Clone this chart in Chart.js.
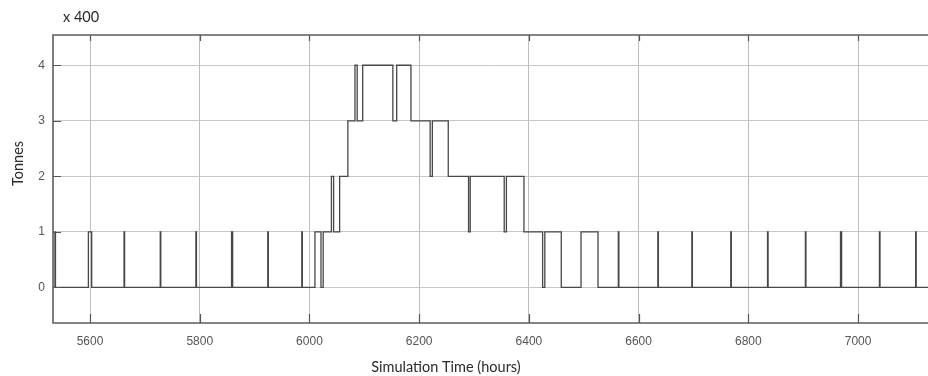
<!DOCTYPE html>
<html>
<head>
<meta charset="utf-8">
<title>Stock level over simulation time</title>
<script src="https://cdn.jsdelivr.net/npm/chart.js@4.4.1/dist/chart.umd.min.js"></script>
<style>
  html, body { margin: 0; padding: 0; background: #ffffff; }
  #wrap { width: 928px; height: 376px; overflow: hidden; }
  canvas { display: block; }
</style>
</head>
<body>
<div id="wrap"><canvas id="chart" width="928" height="376"></canvas></div>
<script>
// Switching instants (hours) and the stock level (units of 400 t) held from each instant on
const stockTimes = [
  5530, 5536, 5537, 5597, 5603, 5662, 5663, 5728, 5729, 5793, 5794,
  5858, 5860, 5924, 5925, 5986, 5987,
  6010, 6021, 6025, 6040, 6044, 6055, 6070, 6083, 6087, 6097,
  6152, 6159, 6185, 6220, 6224, 6253, 6290, 6293, 6355, 6359, 6391,
  6425, 6429, 6459, 6495, 6526,
  6563, 6564, 6635, 6636, 6697, 6698, 6768, 6769, 6835, 6836,
  6904, 6905, 6968, 6970, 7039, 7040, 7105, 7106, 7140
];
const stockLevels = [
  0, 1, 0, 1, 0, 1, 0, 1, 0, 1, 0,
  1, 0, 1, 0, 1, 0,
  1, 0, 1, 2, 1, 2, 3, 4, 3, 4,
  3, 4, 3, 2, 3, 2, 1, 2, 1, 2, 1,
  0, 1, 0, 1, 0,
  1, 0, 1, 0, 1, 0, 1, 0, 1, 0,
  1, 0, 1, 0, 1, 0, 1, 0, 0
];
const xTickValues = [5600, 5800, 6000, 6200, 6400, 6600, 6800, 7000];
const yTickValues = [0, 1, 2, 3, 4];

const xLimits = { min: 5532.5, max: 7127.5 };
const yLimits = { min: -0.64, max: 4.545 };

const labelFont = "Lato, 'Open Sans', sans-serif";
const tickFont = "'Liberation Sans Narrow', 'Liberation Sans', sans-serif";

// Frame round the axes, inward tick marks and the axis captions
const axesDecor = {
  id: 'axesDecor',
  afterDraw(chart) {
    const { ctx, chartArea: a, scales } = chart;
    ctx.save();
    // inward tick marks
    ctx.strokeStyle = '#555555';
    ctx.lineWidth = 1.2;
    ctx.beginPath();
    xTickValues.forEach(v => {
      const px = Math.round(scales.x.getPixelForValue(v)) + 0.5;
      ctx.moveTo(px, a.bottom); ctx.lineTo(px, a.bottom - 9);
      ctx.moveTo(px, a.top); ctx.lineTo(px, a.top + 6);
    });
    yTickValues.forEach(v => {
      const py = Math.round(scales.y.getPixelForValue(v)) + 0.5;
      ctx.moveTo(a.left, py); ctx.lineTo(a.left + 8, py);
    });
    ctx.stroke();
    // frame: left, top and bottom edges
    ctx.strokeStyle = '#5c5c5c';
    ctx.lineWidth = 1.6;
    ctx.beginPath();
    ctx.moveTo(a.right + 5, a.top);
    ctx.lineTo(a.left, a.top);
    ctx.lineTo(a.left, a.bottom);
    ctx.lineTo(a.right + 5, a.bottom);
    ctx.stroke();
    // captions
    ctx.fillStyle = '#2a2a2a';
    ctx.font = '14.5px ' + labelFont;
    ctx.textBaseline = 'alphabetic';
    ctx.textAlign = 'left';
    ctx.fillText('x 400', 63, 21.5);
    ctx.textAlign = 'center';
    ctx.fillText('Simulation Time (hours)', 446, 372);
    ctx.translate(23, 163.5);
    ctx.rotate(-Math.PI / 2);
    ctx.fillText('Tonnes', 0, 0);
    ctx.restore();
  }
};

new Chart(document.getElementById('chart'), {
  type: 'line',
  data: {
    datasets: [{
      label: 'Stock',
      data: stockTimes.map((t, i) => ({ x: t, y: stockLevels[i] })),
      stepped: true,
      borderColor: '#474747',
      borderWidth: 1.3,
      pointRadius: 0,
      fill: false
    }]
  },
  options: {
    responsive: false,
    maintainAspectRatio: false,
    devicePixelRatio: 1,
    animation: false,
    parsing: true,
    layout: { padding: { top: 35, left: 0, right: 0, bottom: 0 } },
    plugins: { legend: { display: false }, tooltip: { enabled: false }, title: { display: false } },
    scales: {
      x: {
        type: 'linear',
        min: xLimits.min,
        max: xLimits.max,
        afterBuildTicks: s => { s.ticks = xTickValues.map(v => ({ value: v })); },
        afterFit: s => { s.height = 53; },
        grid: { color: '#bdbdbd', lineWidth: 1, drawTicks: false },
        border: { display: false },
        ticks: {
          padding: 11,
          color: '#555555',
          font: { family: tickFont, size: 12 },
          maxRotation: 0,
          autoSkip: false,
          callback: v => String(v)
        }
      },
      y: {
        type: 'linear',
        min: yLimits.min,
        max: yLimits.max,
        afterBuildTicks: s => { s.ticks = yTickValues.map(v => ({ value: v })); },
        afterFit: s => { s.width = 53; },
        grid: { color: '#c6c6c6', lineWidth: 1, drawTicks: false },
        border: { display: false },
        ticks: {
          padding: 8,
          color: '#555555',
          font: { family: tickFont, size: 12 },
          callback: v => String(v)
        }
      }
    }
  },
  plugins: [axesDecor]
});
</script>
</body>
</html>
